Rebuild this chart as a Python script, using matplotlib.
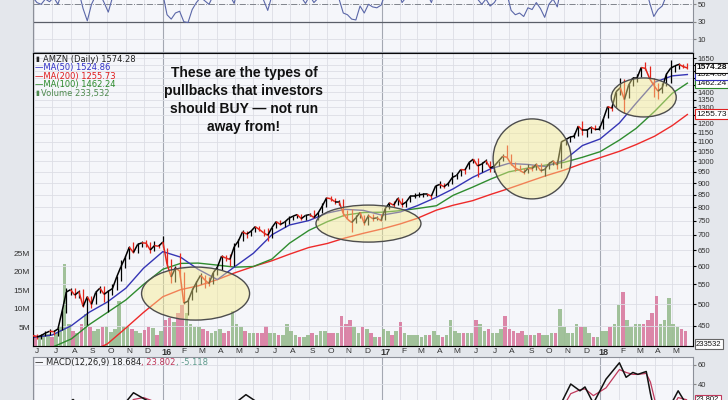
import numpy as np
import pandas as pd
import matplotlib
matplotlib.use('Agg')
import matplotlib.pyplot as plt
from matplotlib import transforms
from matplotlib.collections import LineCollection
from matplotlib.patches import Ellipse
from matplotlib.ticker import NullLocator

plt.rcParams['font.family'] = ['Liberation Sans', 'DejaVu Sans']

# ---- data (weekly, Friday closes) ----
week_end = pd.date_range('2015-05-29', '2018-05-25', freq='W-FRI')

close = [429, 426, 429, 434, 438, 437, 443, 483, 530, 536,
         522, 531, 494, 518, 499, 529, 540, 524, 532, 539,
         570, 599, 626, 659, 642, 668, 673, 672, 650, 664,
         662, 676, 607, 570, 596, 587, 502, 507, 534, 555,
         575, 562, 552, 582, 598, 631, 625, 621, 660, 679,
         710, 702, 712, 728, 718, 707, 698, 725, 746, 736,
         744, 758, 766, 772, 757, 769, 772, 761, 778, 805,
         837, 834, 822, 822, 776, 755, 743, 760, 780, 740,
         768, 757, 760, 750, 795, 817, 808, 836, 810, 821,
         845, 845, 849, 852, 852, 845, 887, 894, 884, 898,
         925, 934, 961, 959, 995, 1011, 978, 987, 1003, 968,
         978, 1001, 1025, 1020, 987, 968, 958, 946, 966, 965,
         986, 956, 961, 989, 1002, 982, 1100, 1111, 1125, 1130,
         1187, 1162, 1162, 1180, 1168, 1169, 1230, 1305, 1294, 1402,
         1430, 1350, 1448, 1500, 1500, 1578, 1571, 1495, 1447, 1406,
         1430, 1527, 1572, 1590, 1602, 1585, 1574.28]

low = [423, 422, 422, 427, 430, 431, 428, 440, 478, 522,
       515, 515, 492, 452, 490, 500, 527, 506, 482, 523,
       535, 560, 595, 622, 640, 640, 660, 660, 640, 648,
       655, 660, 600, 555, 556, 570, 500, 474, 511, 531,
       550, 540, 546, 550, 575, 590, 615, 600, 602, 660,
       680, 689, 695, 710, 712, 697, 680, 690, 723, 733,
       728, 737, 751, 760, 753, 752, 766, 760, 753, 779,
       800, 824, 812, 807, 768, 754, 710, 740, 758, 735,
       735, 748, 753, 748, 753, 792, 803, 808, 802, 802,
       819, 838, 839, 841, 846, 833, 846, 880, 880, 885,
       897, 920, 932, 940, 965, 992, 927, 950, 985, 951,
       950, 977, 1003, 1016, 984, 956, 953, 941, 944, 956,
       958, 951, 931, 963, 984, 962, 970, 1085, 1100, 1120,
       1130, 1134, 1124, 1150, 1163, 1166, 1170, 1232, 1280, 1300,
       1380, 1265, 1360, 1440, 1468, 1510, 1560, 1490, 1366, 1352,
       1395, 1440, 1465, 1545, 1570, 1574, 1568]

high = [433, 433, 432, 438, 442, 441, 446, 486, 540, 541,
        541, 535, 538, 520, 520, 532, 546, 545, 535, 552,
        573, 620, 630, 663, 675, 671, 678, 682, 677, 678,
        670, 696, 657, 622, 600, 640, 583, 515, 540, 560,
        580, 576, 570, 585, 599, 633, 633, 637, 671, 685,
        716, 712, 715, 732, 732, 720, 724, 728, 748, 751,
        747, 766, 768, 775, 774, 771, 777, 791, 780, 815,
        839, 847, 837, 828, 833, 790, 795, 769, 783, 770,
        775, 774, 765, 775, 799, 821, 823, 843, 835, 826,
        847, 858, 860, 856, 858, 850, 891, 911, 899, 903,
        949, 941, 964, 970, 998, 1013, 1017, 999, 1013, 1003,
        980, 1004, 1035, 1083, 1034, 997, 984, 968, 985, 981,
        990, 990, 967, 995, 1008, 1005, 1106, 1122, 1131, 1150,
        1190, 1214, 1172, 1185, 1194, 1188, 1237, 1306, 1313, 1403,
        1498, 1495, 1455, 1503, 1528, 1580, 1617, 1590, 1500, 1460,
        1460, 1539, 1638, 1600, 1611, 1608, 1610]

volume_m = [3.0, 3.0, 2.5, 3.0, 3.2, 2.5, 3.5, 5.0, 22.0, 6.0,
            4.0, 3.5, 6.0, 8.5, 5.0, 4.0, 4.5, 5.0, 5.5, 3.8,
            4.5, 12.0, 5.5, 5.0, 4.5, 4.0, 3.5, 4.2, 5.0, 4.8,
            3.0, 4.0, 7.0, 7.5, 6.5, 9.0, 11.0, 9.0, 6.0, 5.0,
            5.0, 4.5, 4.0, 3.5, 4.0, 4.5, 3.5, 4.0, 9.5, 6.0,
            5.0, 4.0, 3.5, 3.5, 3.5, 3.5, 5.5, 3.5, 3.5, 3.0,
            3.0, 6.0, 4.0, 3.0, 2.5, 2.5, 3.0, 3.5, 3.0, 4.0,
            4.0, 3.5, 3.5, 3.5, 8.0, 6.0, 7.0, 5.0, 3.5, 5.0,
            4.5, 3.5, 2.5, 2.5, 4.5, 4.0, 3.0, 4.0, 6.5, 3.5,
            3.0, 3.0, 3.0, 2.5, 3.0, 3.0, 4.0, 3.0, 2.5, 3.0,
            7.0, 4.0, 3.5, 3.5, 3.5, 3.5, 7.0, 6.0, 4.0, 4.5,
            3.5, 3.5, 4.5, 8.0, 4.5, 4.0, 3.5, 4.0, 3.0, 3.0,
            3.0, 3.5, 3.0, 3.0, 3.5, 3.5, 10.0, 5.0, 3.5, 3.5,
            6.0, 5.0, 5.0, 3.5, 2.5, 2.5, 4.0, 4.0, 5.0, 6.0,
            11.0, 14.5, 7.0, 5.0, 6.0, 6.0, 6.0, 7.0, 9.0, 13.5,
            6.0, 7.0, 13.0, 6.0, 5.0, 4.5, 4.0]

rsi = [58, 52, 50, 56, 53, 58, 50, 65, 75, 72,
       62, 64, 45, 31, 50, 60, 62, 52, 41, 58,
       66, 75, 78, 80, 65, 70, 70, 66, 56, 60,
       58, 62, 38, 33, 40, 42, 30, 29, 44, 52,
       58, 54, 50, 60, 63, 70, 66, 60, 51, 72,
       78, 70, 68, 70, 62, 55, 43, 60, 68, 62,
       64, 68, 68, 70, 58, 51, 60, 52, 57, 68,
       75, 72, 62, 56, 40, 38, 33, 32, 48, 40,
       50, 47, 46, 49, 62, 68, 62, 68, 52, 58,
       66, 64, 65, 63, 62, 52, 68, 70, 60, 65,
       72, 74, 76, 66, 74, 76, 56, 50, 56, 48,
       52, 60, 65, 62, 43, 38, 40, 36, 46, 44,
       52, 45, 35, 50, 56, 47, 72, 74, 75, 72,
       78, 62, 58, 62, 58, 58, 70, 78, 74, 82,
       80, 58, 66, 70, 68, 74, 70, 52, 36, 44,
       48, 60, 66, 68, 70, 62, 60]

# moving averages read at each month start, plus the last bar
ma_dates = list(pd.date_range('2015-06-01', '2018-05-01', freq='MS').strftime('%Y-%m-%d')) + ['2018-05-25']
ma50 = [425, 430, 450, 480, 505, 540, 595,
        645, 628, 592, 563, 600, 640, 700, 734, 750, 778, 792, 788,
        770, 782, 806, 840, 875, 925, 965, 990, 985, 975, 1005, 1080,
        1115, 1205, 1327, 1469, 1515, 1524.86]
ma100 = [395, 405, 422, 452, 480, 510, 550,
         592, 609, 610, 604, 598, 600, 622, 672, 715, 746, 770, 780,
         781, 787, 795, 806, 848, 882, 918, 950, 968, 982, 995, 1020,
         1048, 1109, 1174, 1275, 1392, 1462.24]
ma200 = [370, 378, 386, 395, 412, 445, 480,
         518, 536, 546, 563, 582, 600, 617, 637, 658, 671, 689, 705,
         720, 738, 758, 789, 808, 826, 852, 876, 905, 932, 958, 990,
         1018, 1050, 1085, 1130, 1190, 1255.73]

macd_dates = ['2015-06-01', '2015-07-01', '2015-07-24', '2015-08-05', '2015-08-20', '2015-09-01',
              '2015-10-01', '2015-10-23', '2015-11-13', '2015-12-01', '2015-12-31',
              '2016-01-20', '2016-02-10', '2016-03-10', '2016-04-10', '2016-05-19', '2016-06-15',
              '2016-07-15', '2016-08-15', '2016-09-15', '2016-10-10', '2016-11-15', '2016-12-15',
              '2017-01-20', '2017-02-20', '2017-03-20', '2017-04-20', '2017-05-20', '2017-06-05',
              '2017-06-20', '2017-07-25', '2017-08-20', '2017-09-20', '2017-10-15', '2017-11-13',
              '2017-11-28', '2017-12-06', '2017-12-20',
              '2018-01-10', '2018-02-01', '2018-02-13', '2018-02-23', '2018-03-05', '2018-03-19',
              '2018-03-26', '2018-04-06', '2018-04-20', '2018-05-10', '2018-05-24']
macd = [2, 5, 18, 24, 15, 0, 5, 15, 31, 25, 15,
        -15, -35, -10, 10, 29, 18, 12, 12, 10, 20, -15, -8,
        10, 12, 10, 18, 20, 22, 12, 15, -10, -5, 5, 40, 33, 37, 20,
        45, 62, 47, 52, 50, 53, 30, -5, 10, 33, 18.684]
macd_signal = [1, 3, 8, 15, 18, 10, 4, 9, 24, 26, 19,
               2, -22, -20, 0, 22, 21, 14, 12, 11, 15, 3, -8,
               3, 10, 11, 15, 18, 20, 16, 14, -2, -6, 0, 30, 34, 35, 28,
               36, 55, 52, 50, 50, 51, 42, 10, 5, 26, 23.802]

# the four circled pullbacks: centre (date, price)
pullback_dates = ['2016-02-25', '2016-12-09', '2017-09-08', '2018-03-14']
pullback_prices = [526, 739, 1012, 1364]

price_ticks = list(range(450, 1700, 50))
vol_ticks = [5, 10, 15, 20, 25]

# ---- helpers ----
W, H = 728, 400
START = np.datetime64('2015-06-01')


def bidx(dates):
    # chart x position = business days since the first bar
    d = np.array(pd.to_datetime(dates).values, dtype='datetime64[D]')
    return np.busday_count(START, d)


def px_box(l, t, r, b):
    return [l / W, 1 - b / H, (r - l) / W, (b - t) / H]


BG = '#e4e7ec'
PANEL = '#f5f6fa'
GRID = '#dcdee5'

fig = plt.figure(figsize=(W / 100, H / 100), dpi=100, facecolor=BG)
ax_vol = fig.add_axes(px_box(33, 53, 693, 346))
ax = ax_vol.twinx()
ax_rsi = fig.add_axes(px_box(33, -40, 693, 52))
ax_macd = fig.add_axes(px_box(33, 357, 693, 470))

month_starts = pd.date_range('2015-06-01', '2018-05-01', freq='MS')
mx = bidx(month_starts)
mlabels = [str(d.year)[2:] if d.month == 1 else d.strftime('%b')[0] for d in month_starts]

for a in (ax_vol, ax_rsi, ax_macd):
    a.set_facecolor(PANEL)
    a.set_xlim(-0.7, 785.7)
    for x, d in zip(mx, month_starts):
        if d.month == 1:
            a.axvline(x, color='#a4a8b2', lw=0.8, zorder=0)
        else:
            a.axvline(x, color=GRID, lw=0.6, zorder=0)
    for s in a.spines.values():
        s.set_color('#8c9099')
        s.set_linewidth(0.8)
    a.tick_params(axis='y', labelsize=5.5, labelcolor='#333333', length=2, pad=1.5, color='#888888')

for a in (ax_rsi, ax_macd):
    a.set_xticks([])
    a.yaxis.tick_right()

# ---- volume (base layer) ----
wx = bidx(week_end)
up = np.r_[True, np.diff(close) >= 0]
vcols = np.where(up, '#93b889', '#d7739a')
ax_vol.bar(wx - 2, volume_m, width=4.2, color=vcols, alpha=0.85, lw=0, zorder=1)
ax_vol.set_ylim(0, 78.8)
ax_vol.set_yticks(vol_ticks, [f'{v}M' for v in vol_ticks])
ax_vol.tick_params(axis='y', labelsize=6, length=0, pad=2)
ax_vol.set_xticks(mx, mlabels)
ax_vol.tick_params(axis='x', labelsize=6, labelcolor='#333333', length=0, pad=1.5)
shift = transforms.ScaledTranslation(3.5 / 100, 0, fig.dpi_scale_trans)
for lab, d in zip(ax_vol.get_xticklabels(), month_starts):
    lab.set_transform(lab.get_transform() + shift)
    if d.month == 1:
        lab.set_fontweight('bold')
        lab.set_fontsize(6.5)

# ---- price ----
ax.set_yscale('log')
ax.set_ylim(407.7, 1693)
hidden = {1250, 1450, 1500, 1550, 1600}
ax.set_yticks(price_ticks, ['' if t in hidden else str(t) for t in price_ticks])
ax.yaxis.set_minor_locator(NullLocator())
ax.grid(axis='y', color=GRID, lw=0.6, zorder=0)
ax.tick_params(axis='y', labelsize=5.5, labelcolor='#333333', length=2, pad=1.5)

mdx = bidx(ma_dates)
ax.plot(mdx, ma200, color='#ee2a2a', lw=1.0, zorder=3)
ax.plot(mdx, ma100, color='#2f8c2f', lw=1.0, zorder=3)
ax.plot(mdx, ma50, color='#3535b5', lw=1.0, zorder=3)

pcols = np.where(up, '#000000', '#e3261c')
ax.vlines(wx, low, high, colors=pcols, lw=0.9, zorder=4)
pts = np.column_stack([wx, close])
segs = np.stack([pts[:-1], pts[1:]], axis=1)
ax.add_collection(LineCollection(segs, colors=pcols[1:], lw=1.1, zorder=4))
ax.set_xlim(-0.7, 785.7)
ax.set_ylim(407.7, 1693)

# circled pullbacks (sizes in pixels)
ell_w = [108, 105, 78, 65]
ell_h = [53, 37, 80, 39]
to_axes = ax.transAxes.inverted()
for d, p, w, h in zip(pullback_dates, pullback_prices, ell_w, ell_h):
    cx, cy = to_axes.transform(ax.transData.transform((bidx([d])[0], p)))
    ax.add_patch(Ellipse((cx, cy), w / 660, h / 293, transform=ax.transAxes,
                         fc=(0.96, 0.92, 0.55, 0.45), ec='#4d4d4d', lw=1.0, zorder=6))


def value_box(a, y, text, ec, bold=False, size=6):
    a.annotate(text, xy=(1, y), xycoords=('axes fraction', 'data'), xytext=(2.2, 0),
               textcoords='offset points', ha='left', va='center', fontsize=size,
               fontweight='bold' if bold else 'normal', color='#111111',
               bbox=dict(boxstyle='square,pad=0.18', fc='white', ec=ec, lw=0.8),
               annotation_clip=False, zorder=10)


value_box(ax, ma200[-1], f'{ma200[-1]:.2f}', '#e02020')
value_box(ax, ma100[-1], f'{ma100[-1]:.2f}', '#2a8a2a')
value_box(ax, ma50[-1], f'{ma50[-1]:.2f}', '#3535c0')
value_box(ax, close[-1], f'{close[-1]:.2f}', '#111111', bold=True)
value_box(ax_vol, 0.5, '233532', '#666666', size=5.5)

# ---- RSI strip (cut off at the top of the image) ----
ax_rsi.plot(wx, rsi, color='#5b67a8', lw=0.8, zorder=3)
ax_rsi.set_ylim(-4.8, 100.9)
ax_rsi.set_yticks([10, 30, 50])
for v in (10, 90):
    ax_rsi.axhline(v, color=GRID, lw=0.6, zorder=0)
for v in (30, 70):
    ax_rsi.axhline(v, color='#5a5e68', lw=0.9, zorder=2)
ax_rsi.axhline(50, color='#80848c', lw=0.7, ls='-.', zorder=2)

# ---- MACD (mostly below the image) ----
mcx = bidx(macd_dates)
ax_macd.set_ylim(-49, 68)
ax_macd.set_yticks([60, 40])
for v in (60, 40, 20, 0, -20, -40):
    ax_macd.axhline(v, color=GRID, lw=0.6, zorder=0)
ax_macd.plot(mcx, macd_signal, color='#c0395c', lw=0.9, zorder=3)
ax_macd.plot(mcx, macd, color='#111111', lw=1.1, zorder=4)
value_box(ax_macd, macd_signal[-1], f'{macd_signal[-1]:.3f}', '#c0395c', size=5.5)

# ---- legends / labels ----
small = dict(fontsize=6, family='DejaVu Sans', va='center')
fig.text(35 / W, 1 - 59 / H, '\u25ae', color='#222222', fontsize=5, family='DejaVu Sans', va='center')
fig.text(43 / W, 1 - 59 / H, f'AMZN (Daily) {close[-1]:.2f}', color='#222222', **small)
fig.text(35 / W, 1 - 67.7 / H, f'\u2014MA(50) {ma50[-1]:.2f}', color='#3030c8', **small)
fig.text(35 / W, 1 - 76.3 / H, f'\u2014MA(200) {ma200[-1]:.2f}', color='#e01c1c', **small)
fig.text(35 / W, 1 - 85 / H, f'\u2014MA(100) {ma100[-1]:.2f}', color='#2a8a2a', **small)
fig.text(35 / W, 1 - 93.5 / H, '\u25ae', color='#4f8a4f', fontsize=5, family='DejaVu Sans', va='center')
fig.text(41 / W, 1 - 93.5 / H, 'Volume 233,532', color='#4f8a4f', **small)

t1 = fig.text(35 / W, 1 - 363 / H, f'\u2014 MACD(12,26,9) {macd[-1]:.3f}', color='#222222', **small)
t2 = ax_macd.annotate(f', {macd_signal[-1]:.3f}', xy=(1, 0.5), xycoords=t1, ha='left',
                      color='#c0395c', **small)
ax_macd.annotate(', -5.118', xy=(1, 0.5), xycoords=t2, ha='left', color='#5e9a8c', **small)

fig.text(244 / W, 1 - 100 / H,
         'These are the types of\npullbacks that investors\nshould BUY \u2014 not run\naway from!',
         ha='center', va='center', fontsize=10, fontweight='bold', linespacing=1.35,
         color='#111111', family='Liberation Sans')

fig.savefig('out.png', dpi=100, facecolor=fig.get_facecolor())
